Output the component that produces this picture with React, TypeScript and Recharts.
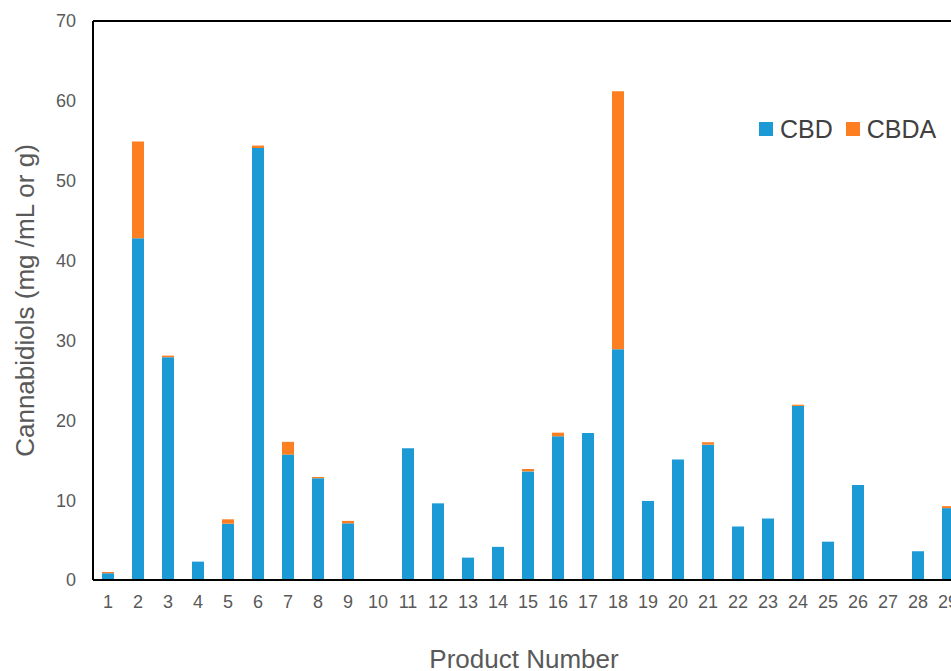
import { BarChart, Bar, XAxis, YAxis, Legend, ReferenceLine } from "recharts";

// product numbers along the x axis
const products = [
  "1", "2", "3", "4", "5", "6", "7", "8", "9", "10",
  "11", "12", "13", "14", "15", "16", "17", "18", "19", "20",
  "21", "22", "23", "24", "25", "26", "27", "28", "29",
];

// mg/mL or mg/g
const cbd = [
  0.85, 42.8, 27.9, 2.3, 7.05, 54.1, 15.7, 12.75, 7.1, 0,
  16.5, 9.6, 2.8, 4.15, 13.6, 18.0, 18.4, 28.9, 9.9, 15.1,
  16.95, 6.7, 7.7, 21.8, 4.8, 11.9, 0, 3.6, 9.0,
];
const cbda = [
  0.15, 12.1, 0.2, 0, 0.55, 0.3, 1.6, 0.15, 0.3, 0,
  0, 0, 0, 0, 0.3, 0.45, 0, 32.3, 0, 0,
  0.3, 0, 0, 0.15, 0, 0, 0, 0, 0.25,
];

const yTicks = [0, 10, 20, 30, 40, 50, 60, 70];

const BLUE = "#1b9ad6";
const ORANGE = "#fd7f22";
const FONT = "'Liberation Sans', Arial, sans-serif";

const datos = products.map((p, i) => ({ product: p, CBD: cbd[i], CBDA: cbda[i] }));

function LeyendaCustom({ payload }: any) {
  if (!payload?.length) return null;
  return (
    <div style={{ display: "flex", alignItems: "center", fontFamily: FONT, fontSize: 25, color: "#404040", lineHeight: "28px" }}>
      {payload.map((p: any, i: number) => (
        <span key={p.value} style={{ display: "flex", alignItems: "center", marginRight: i === 0 ? 13 : 0 }}>
          <span style={{ width: 14, height: 14, background: p.color, marginRight: 7, display: "inline-block" }} />
          {p.value}
        </span>
      ))}
    </div>
  );
}

export default function App() {
  return (
    <div style={{ position: "fixed", left: 0, top: 0, width: 951, height: 671, overflow: "hidden", background: "#fff" }}>
      <BarChart width={1000} height={671} data={datos} margin={{ top: 21, right: 37, left: 0, bottom: 0 }}>
        <XAxis
          dataKey="product"
          height={91}
          tickLine={false}
          tickSize={0}
          tickMargin={15}
          tick={{ fontSize: 18, fill: "#595959", fontFamily: FONT }}
          axisLine={{ stroke: "#000", strokeWidth: 2 }}
          interval={0}
          label={{ value: "Product Number", position: "insideBottom", offset: 3, dx: -4, fontSize: 26, fill: "#595959", fontFamily: FONT }}
        />
        <YAxis
          width={93}
          domain={[0, 70]}
          ticks={yTicks}
          tickLine={false}
          tickSize={0}
          tickMargin={17}
          tick={{ fontSize: 18, fill: "#595959", fontFamily: FONT }}
          axisLine={{ stroke: "#000", strokeWidth: 2 }}
          label={{
            value: "Cannabidiols (mg /mL or g)",
            angle: -90,
            position: "insideLeft",
            offset: 25,
            fontSize: 26,
            fill: "#595959",
            fontFamily: FONT,
            style: { textAnchor: "middle" },
          }}
        />
        <ReferenceLine y={70} stroke="#000" strokeWidth={2} />
        <Legend
          layout="horizontal"
          verticalAlign="middle"
          align="center"
          content={<LeyendaCustom />}
          wrapperStyle={{ top: 115, left: 759, width: "auto" }}
        />
        <Bar dataKey="CBD" stackId="a" fill={BLUE} barSize={12} isAnimationActive={false} />
        <Bar dataKey="CBDA" stackId="a" fill={ORANGE} barSize={12} isAnimationActive={false} />
      </BarChart>
    </div>
  );
}
